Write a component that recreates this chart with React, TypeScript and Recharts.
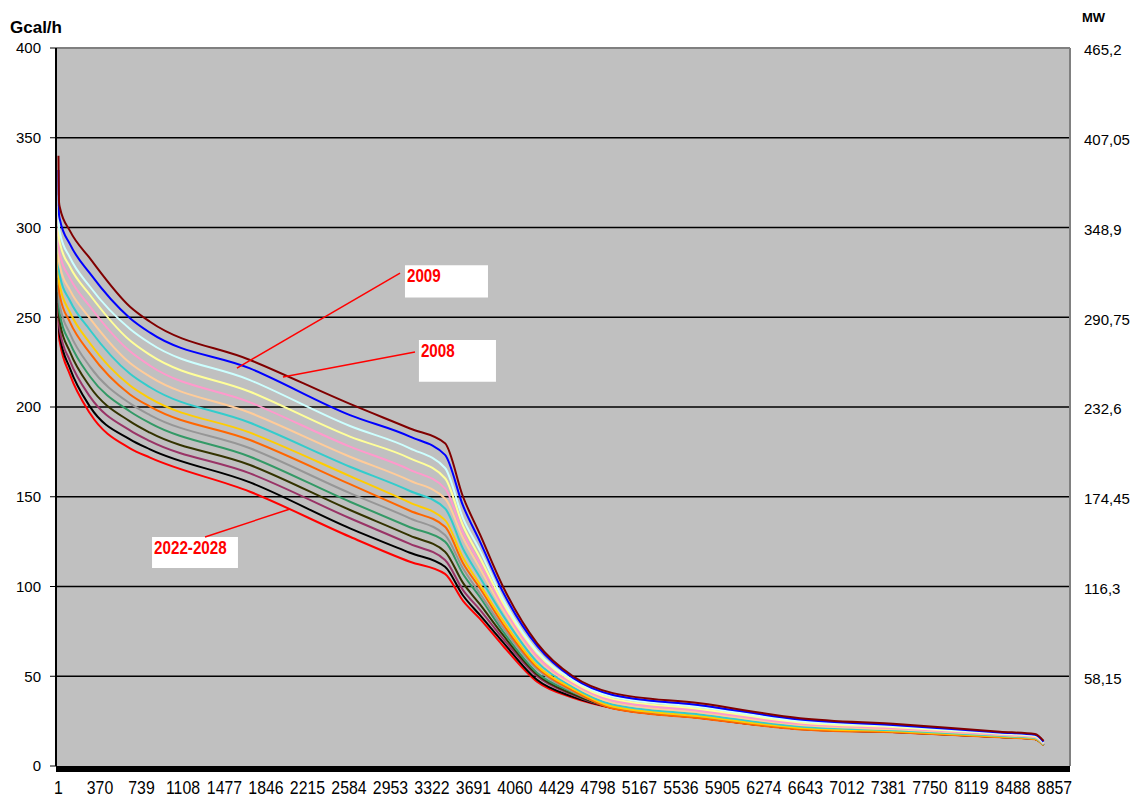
import React from 'react';
import {
  LineChart,
  Line,
  XAxis,
  YAxis,
  CartesianGrid,
  ReferenceLine,
  ReferenceArea,
} from 'recharts';

// hours of the year (load duration curve), sorted from highest load
const hours = [1, 6, 15, 103, 281, 637, 815, 1704, 2593, 3126, 3438, 3598, 3749, 3953, 4256, 4576, 4931, 5705, 6594, 7483, 8372, 8683, 8760];

const y2008 = [340, 314, 310.7, 298.1, 282.8, 255.9, 247.5, 226.2, 201.7, 188, 179.8, 150, 129, 100, 68.5, 50, 40.6, 34.9, 26.6, 23.2, 19.1, 17.8, 14];
const y2009 = [332, 307, 304, 290.7, 274.4, 249.5, 241.4, 221.5, 195.5, 183.5, 173.3, 145, 125, 97, 67, 49, 39.6, 33.9, 25.9, 22.6, 18.7, 17.4, 13.5];
const y2010 = [318, 300, 296.7, 283.3, 267, 243.5, 235.5, 215, 189.4, 177, 166, 138, 120, 93, 64, 48, 38.5, 32.8, 25.1, 22.1, 18.3, 17.1, 13];
const y2011 = [312, 294, 291, 278.1, 262.4, 237, 229, 208.5, 183.5, 171.4, 160.3, 134, 116, 91, 63, 47, 37.4, 31.8, 24.3, 21.5, 18, 16.7, 12.8];
const y2012 = [306, 288, 284.7, 271.8, 256, 231, 223, 202.6, 177.9, 165, 154.7, 130, 113, 89, 61, 46, 36.3, 30.7, 23.5, 20.9, 17.6, 16.4, 12.5];
const y2013 = [300, 281, 278, 265.1, 249.4, 224.5, 216.9, 196.8, 172.3, 159, 149, 127, 110, 87, 60, 45, 35.3, 29.8, 22.8, 20.3, 17.2, 16, 12.3];
const y2014 = [295, 276, 272.6, 259.2, 242.9, 218.5, 211, 191.2, 166.7, 153.2, 143.5, 121, 105, 84, 58, 44, 34.2, 28.7, 22, 19.8, 16.8, 15.6, 12];
const y2015 = [290, 270, 267, 252.8, 235.5, 212, 204.8, 185.7, 161.5, 146.7, 137, 116, 101, 81, 56, 43, 33.1, 27.7, 21.2, 19.2, 16.4, 15.3, 11.8];
const y2016 = [285, 265, 261.5, 247.3, 230, 207, 200.2, 181.6, 157, 142.2, 133.3, 113, 99, 79, 55, 42, 32, 26.6, 20.4, 18.6, 16, 14.9, 11.5];
const y2017 = [280, 260, 256, 240.9, 222.5, 202, 195.5, 177, 152, 138, 128.7, 110, 96, 77, 54, 41.5, 32.9, 27.4, 21, 19.1, 16.3, 15.2, 11.7];
const y2018 = [276, 255, 251, 235.7, 217, 197.5, 191, 172.3, 147.2, 133, 125, 107, 94, 75, 52, 41, 32.7, 27.3, 20.9, 19, 16.3, 15.1, 11.7];
const y2019 = [272, 250, 246.6, 230.7, 211.3, 192, 185.7, 167.7, 142.6, 128.3, 119.4, 102, 90, 73, 51, 40, 32.6, 27.2, 20.8, 18.9, 16.2, 15.1, 11.7];
const y2020 = [268, 246, 242, 225.7, 205.8, 187, 181, 163, 138, 123.7, 114.8, 98, 87, 71, 50, 39.5, 32.4, 27, 20.7, 18.8, 16.2, 15, 11.7];
const y2021 = [264, 243, 239, 221.5, 200.2, 182, 176.4, 158, 132.4, 118.8, 111, 95, 84, 69, 48, 38.5, 32.3, 26.9, 20.6, 18.8, 16.1, 15, 11.7];
const y2022 = [258, 239, 235.5, 218, 196.5, 177, 171.8, 152.8, 127.7, 113.8, 107, 92, 82, 67, 47, 38, 32.2, 26.8, 20.6, 18.7, 16.1, 15, 11.7];

const years = ['2008', '2009', '2010', '2011', '2012', '2013', '2014', '2015', '2016', '2017', '2018', '2019', '2020', '2021', '2022'];
const values = [y2008, y2009, y2010, y2011, y2012, y2013, y2014, y2015, y2016, y2017, y2018, y2019, y2020, y2021, y2022];
const colors = ['#800000', '#0000FF', '#CCFFFF', '#FFFF99', '#FF99CC', '#FFCC99', '#33CCCC', '#FFCC00', '#FF6600', '#969696', '#339966', '#333300', '#993366', '#000000', '#FF0000'];

const xTicks = [1, 370, 739, 1108, 1477, 1846, 2215, 2584, 2953, 3322, 3691, 4060, 4429, 4798, 5167, 5536, 5905, 6274, 6643, 7012, 7381, 7750, 8119, 8488, 8857];
const gcalTicks = [0, 50, 100, 150, 200, 250, 300, 350, 400];
const mwTicks = [58.15, 116.3, 174.45, 232.6, 290.75, 348.9, 407.05, 465.2];
const mwLabels = ['58,15', '116,3', '174,45', '232,6', '290,75', '348,9', '407,05', '465,2'];

const data = hours.map((h, i) => {
  const row: any = { h };
  years.forEach((y, k) => {
    row[y] = values[k][i];
  });
  return row;
});

const arial = '"Liberation Sans", Arial, sans-serif';

// Excel's squeezed axis font: Arial drawn narrower
const XTick = (props: any) => {
  const { x, y, payload } = props;
  return (
    <text
      transform={`translate(${x},${y + 25}) scale(0.88,1)`}
      textAnchor="middle"
      fill="#000"
      fontFamily={arial}
      fontSize={18}
    >
      {payload.value}
    </text>
  );
};

const boxLabel = (text: string) => (props: any) => {
  const { viewBox } = props;
  return (
    <text
      transform={`translate(${viewBox.x + 2},${viewBox.y + 17}) scale(0.8,1)`}
      fill="#FF0000"
      fontWeight="bold"
      fontFamily={arial}
      fontSize={19}
    >
      {text}
    </text>
  );
};

const App: React.FC = () => {
  return (
    <div style={{ position: 'relative', width: 1138, height: 799, background: '#fff' }}>
      <style>{'body{margin:0}'}</style>
      <LineChart
        width={1138}
        height={799}
        data={data}
        margin={{ top: 48, right: 0, left: 0, bottom: 0 }}
      >
        <CartesianGrid
          vertical={false}
          horizontalValues={[50, 100, 150, 200, 250, 300, 350]}
          stroke="#000"
          strokeWidth={1.5}
          fill="#C0C0C0"
          yAxisId="gcal"
        />
        <XAxis
          dataKey="h"
          type="number"
          domain={[-21, 8995]}
          ticks={xTicks}
          interval={0}
          height={33}
          tickLine={false}
          tickSize={0}
          tickMargin={3}
          axisLine={{ stroke: '#000', strokeWidth: 6, transform: 'translate(0,3)' }}
          tick={<XTick />}
        />
        <YAxis
          yAxisId="gcal"
          domain={[0, 400]}
          ticks={gcalTicks}
          interval={0}
          width={56}
          tickSize={6}
          tickMargin={9}
          tickLine={{ stroke: '#000' }}
          axisLine={{ stroke: '#000', strokeWidth: 2 }}
          tick={{ fill: '#000', fontSize: 15, fontFamily: arial }}
        />
        <YAxis
          yAxisId="mw"
          orientation="right"
          domain={[0, 465.2]}
          ticks={mwTicks}
          interval={0}
          width={68}
          tickLine={false}
          tickSize={0}
          tickMargin={14}
          axisLine={{ stroke: '#808080', strokeWidth: 2 }}
          tick={{ fill: '#000', fontSize: 15, fontFamily: arial, textAnchor: 'start', dy: 2 }}
          tickFormatter={(v: number, i: number) => mwLabels[i]}
        />
        <ReferenceLine yAxisId="gcal" y={400} stroke="#808080" strokeWidth={2} />
        {/* carries the MW axis, drawn invisibly */}
        <Line
          yAxisId="mw"
          dataKey="2008"
          stroke="none"
          dot={false}
          activeDot={false}
          isAnimationActive={false}
        />
        {years
          .map((y, k) => (
            <Line
              key={y}
              yAxisId="gcal"
              type="monotone"
              dataKey={y}
              stroke={colors[k]}
              strokeWidth={2}
              dot={false}
              isAnimationActive={false}
            />
          ))
          .reverse()}
        <ReferenceArea yAxisId="gcal" x1={3082} x2={3820} y1={261} y2={279} fill="#fff" fillOpacity={1} stroke="none" label={boxLabel('2009')} />
        <ReferenceArea yAxisId="gcal" x1={3206} x2={3891} y1={214} y2={237.3} fill="#fff" fillOpacity={1} stroke="none" label={boxLabel('2008')} />
        <ReferenceArea yAxisId="gcal" x1={833} x2={1597} y1={110.3} y2={127.6} fill="#fff" fillOpacity={1} stroke="none" label={boxLabel('2022-2028')} />
        <ReferenceLine yAxisId="gcal" segment={[{ x: 3038, y: 274.6 }, { x: 1588, y: 221.7 }]} stroke="#FF0000" strokeWidth={1.5} />
        <ReferenceLine yAxisId="gcal" segment={[{ x: 3171, y: 230.6 }, { x: 1997, y: 216.7 }]} stroke="#FF0000" strokeWidth={1.5} />
        <ReferenceLine yAxisId="gcal" segment={[{ x: 1304, y: 127.6 }, { x: 2060, y: 143.2 }]} stroke="#FF0000" strokeWidth={1.5} />
      </LineChart>
      <div style={{ position: 'absolute', left: 10, top: 18, fontFamily: arial, fontWeight: 'bold', fontSize: 17 }}>
        Gcal/h
      </div>
      <div style={{ position: 'absolute', left: 1082, top: 10, fontFamily: arial, fontWeight: 'bold', fontSize: 13 }}>
        MW
      </div>
    </div>
  );
};

export default App;
